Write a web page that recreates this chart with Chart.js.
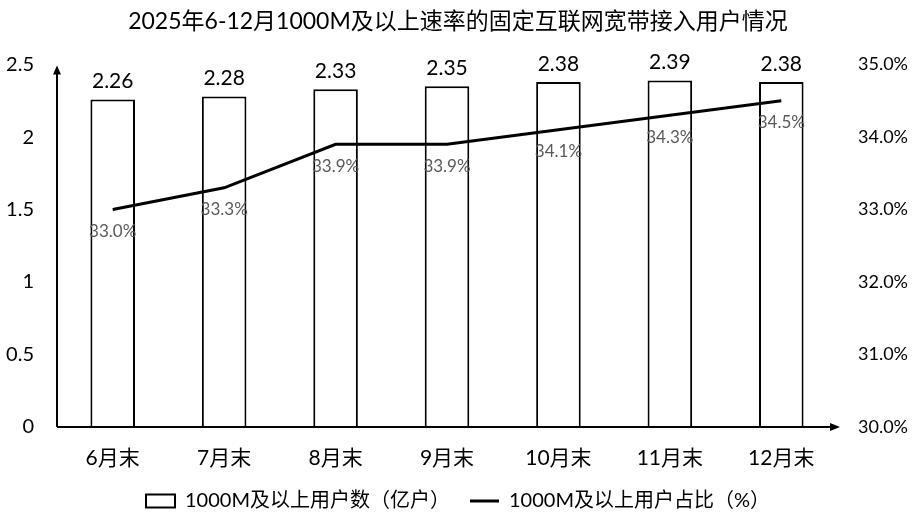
<!DOCTYPE html>
<html lang="zh">
<head>
  <meta charset="UTF-8">
  <title>1000M及以上速率的固定互联网宽带接入用户情况</title>
  <script src="https://cdn.jsdelivr.net/npm/chart.js"></script>
  <style>
    html, body {
      margin: 0;
      padding: 0;
      background: #fff;
    }
    #wrap {
      width: 916px;
      height: 527px;
    }
  </style>
</head>
<body>
  <div id="wrap"><canvas id="userChart"></canvas></div>

  <script>
    const months = ['6月末', '7月末', '8月末', '9月末', '10月末', '11月末', '12月末'];
    const users = [2.26, 2.28, 2.33, 2.35, 2.38, 2.39, 2.38];
    const share = [33.0, 33.3, 33.9, 33.9, 34.1, 34.3, 34.5];
    const leftTicks = [0, 0.5, 1, 1.5, 2, 2.5];
    const rightTicks = [30, 31, 32, 33, 34, 35];

    const FONT = "Lato, 'Noto Sans CJK SC', sans-serif";

    // axis lines with arrows + value labels
    const axisAndLabels = {
      id: 'axisAndLabels',
      afterDatasetsDraw(chart) {
        const ctx = chart.ctx;
        const { left, right, top, bottom } = chart.chartArea;
        ctx.save();
        ctx.strokeStyle = '#000';
        ctx.fillStyle = '#000';
        ctx.lineWidth = 2;

        ctx.beginPath();
        ctx.moveTo(left, bottom);
        ctx.lineTo(left, top + 6);
        ctx.moveTo(left, bottom);
        ctx.lineTo(right - 4, bottom);
        ctx.stroke();

        ctx.beginPath();
        ctx.moveTo(left, top + 1);
        ctx.lineTo(left - 4, top + 10);
        ctx.lineTo(left + 4, top + 10);
        ctx.closePath();
        ctx.fill();

        ctx.beginPath();
        ctx.moveTo(right + 3, bottom);
        ctx.lineTo(right - 7, bottom - 4);
        ctx.lineTo(right - 7, bottom + 4);
        ctx.closePath();
        ctx.fill();

        ctx.textAlign = 'center';
        ctx.textBaseline = 'middle';

        ctx.font = '21px ' + FONT;
        ctx.fillStyle = '#000';
        chart.getDatasetMeta(0).data.forEach((bar, i) => {
          ctx.fillText(users[i].toFixed(2), bar.x, bar.y - 18);
        });

        ctx.font = '17px ' + FONT;
        ctx.fillStyle = '#595959';
        chart.getDatasetMeta(1).data.forEach((pt, i) => {
          ctx.fillText(share[i].toFixed(1) + '%', pt.x, pt.y + 22);
        });
        ctx.restore();
      }
    };

    const ctx = document.getElementById('userChart').getContext('2d');
    new Chart(ctx, {
      data: {
        labels: months,
        datasets: [
          {
            type: 'bar',
            label: '1000M及以上用户数（亿户）',
            data: users,
            yAxisID: 'y',
            backgroundColor: '#fff',
            borderColor: '#000',
            borderWidth: 2,
            categoryPercentage: 1,
            barPercentage: 0.4,
            order: 2
          },
          {
            type: 'line',
            label: '1000M及以上用户占比（%）',
            data: share,
            yAxisID: 'y1',
            borderColor: '#000',
            backgroundColor: '#000',
            borderWidth: 3,
            pointRadius: 0,
            tension: 0,
            order: 1
          }
        ]
      },
      options: {
        responsive: true,
        maintainAspectRatio: false,
        animation: false,
        layout: { padding: { left: 0, right: 0, top: 0, bottom: 6 } },
        plugins: {
          title: {
            display: true,
            text: '2025年6-12月1000M及以上速率的固定互联网宽带接入用户情况',
            color: '#000',
            font: { family: FONT, size: 23, weight: 'normal' },
            padding: { top: 8, bottom: 29 }
          },
          legend: {
            position: 'bottom',
            labels: {
              color: '#000',
              font: { family: FONT, size: 20 },
              usePointStyle: true,
              pointStyleWidth: 29,
              boxHeight: 13,
              padding: 20,
              generateLabels(chart) {
                const items = Chart.defaults.plugins.legend.labels.generateLabels(chart);
                items.sort((a, b) => a.datasetIndex - b.datasetIndex);
                items.forEach(it => {
                  if (it.datasetIndex === 0) {
                    it.pointStyle = 'rect';
                    it.fillStyle = '#fff';
                    it.strokeStyle = '#000';
                    it.lineWidth = 2;
                  } else {
                    it.pointStyle = 'line';
                    it.strokeStyle = '#000';
                    it.lineWidth = 3;
                  }
                });
                return items;
              }
            }
          },
          tooltip: { enabled: false }
        },
        scales: {
          x: {
            grid: { display: false },
            border: { display: false },
            afterFit(axis) { axis.height = 44; },
            ticks: {
              color: '#000',
              font: { family: FONT, size: 21 },
              padding: 11
            }
          },
          y: {
            position: 'left',
            min: 0,
            max: 2.5,
            afterBuildTicks(axis) {
              axis.ticks = leftTicks.map(v => ({ value: v }));
            },
            afterFit(axis) { axis.width = 57; },
            grid: { display: false },
            border: { display: false },
            ticks: {
              color: '#000',
              font: { family: FONT, size: 20 },
              padding: 15,
              callback: v => String(v)
            }
          },
          y1: {
            position: 'right',
            min: 30,
            max: 35,
            afterBuildTicks(axis) {
              axis.ticks = rightTicks.map(v => ({ value: v }));
            },
            afterFit(axis) { axis.width = 79; },
            grid: { display: false },
            border: { display: false },
            ticks: {
              color: '#000',
              font: { family: FONT, size: 18 },
              padding: 13,
              callback: v => v.toFixed(1) + '%'
            }
          }
        }
      },
      plugins: [axisAndLabels]
    });
  </script>
</body>
</html>
